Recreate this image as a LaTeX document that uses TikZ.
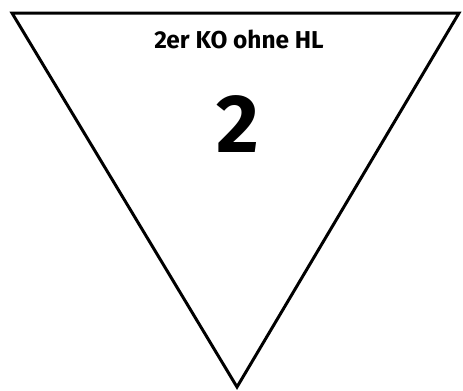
\documentclass[tikz,border=0pt]{standalone}
\usepackage{fontspec}
\setmainfont{Fira Sans}
\begin{document}
\begin{tikzpicture}[x=0.02cm, y=-0.02cm, line join=miter]
    % 1. Vùng hiển thị
    \useasboundingbox (0, 0) rectangle (463, 390);

    % 2. Tam giác ngược
    \coordinate (tl) at (12, 13);
    \coordinate (tr) at (459, 13);
    \coordinate (apex) at (237, 387);
    \draw[line width=1.7pt] (tl) -- (tr) -- (apex) -- cycle;

    % 3. Nhãn
    \node[font=\fontsize{13.9}{15}\selectfont\bfseries] (title) at (239, 39) {2er KO ohne HL};
    \node[font=\fontsize{47}{50}\selectfont\bfseries] (number) at (238, 124) {2};
\end{tikzpicture}
\end{document}
